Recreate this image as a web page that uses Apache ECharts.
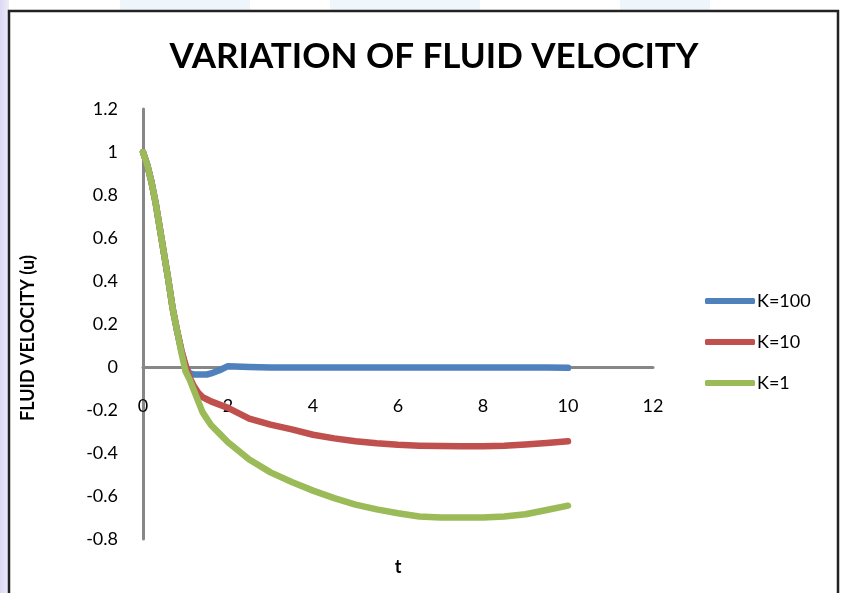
<!DOCTYPE html>
<html>
<head>
<meta charset="utf-8">
<script src="https://cdn.jsdelivr.net/npm/echarts@6/dist/echarts.min.js"></script>
<style>
  html, body { margin: 0; padding: 0; background: #fff; }
  #chart { width: 844px; height: 593px; }
</style>
</head>
<body>
<div id="chart"></div>
<script>
// t values shared by all three curves
const tValues = [0, 0.1, 0.2, 0.3, 0.4, 0.5, 0.6, 0.7, 0.8, 0.9, 1.0, 1.1, 1.2, 1.3, 1.4, 1.5, 1.6, 1.8, 2.0,
  2.5, 3, 3.5, 4, 4.5, 5, 5.5, 6, 6.5, 7, 7.5, 8, 8.5, 9, 9.5, 10];

const uK100 = [1, 0.94, 0.86, 0.76, 0.64, 0.52, 0.40, 0.27, 0.17, 0.08, 0.0, -0.03, -0.035, -0.035, -0.035, -0.035, -0.03, -0.015, 0.004,
  0.0, -0.002, -0.002, -0.002, -0.002, -0.002, -0.002, -0.002, -0.002, -0.002, -0.002, -0.002, -0.002, -0.002, -0.002, -0.004];
const uK10 = [1, 0.94, 0.86, 0.76, 0.64, 0.52, 0.40, 0.27, 0.17, 0.08, 0.01, -0.05, -0.09, -0.12, -0.14, -0.15, -0.16, -0.175, -0.19,
  -0.24, -0.268, -0.29, -0.315, -0.332, -0.345, -0.355, -0.362, -0.366, -0.368, -0.369, -0.369, -0.366, -0.36, -0.353, -0.345];
const uK1 = [1, 0.94, 0.86, 0.76, 0.64, 0.52, 0.40, 0.27, 0.17, 0.07, -0.02, -0.06, -0.11, -0.16, -0.21, -0.24, -0.27, -0.31, -0.35,
  -0.43, -0.49, -0.535, -0.575, -0.61, -0.64, -0.662, -0.68, -0.695, -0.70, -0.70, -0.70, -0.695, -0.685, -0.665, -0.645];

const seriesNames = ['K=100', 'K=10', 'K=1'];
const seriesColors = ['#4F81BD', '#C0504D', '#9BBB59'];

function pairs(u) {
  return tValues.map(function (t, i) { return [t, u[i]]; });
}

const myChart = echarts.init(document.getElementById('chart'));
const font = 'Lato, "Open Sans", sans-serif';

// grid is 430px tall for 2 units of u; x axis sits on u = 0 (0.8 units above the bottom)
const xAxisOffset = -430 * 0.8 / 2;

const option = {
  backgroundColor: '#fff',
  animation: false,
  title: {
    text: 'VARIATION OF FLUID VELOCITY',
    left: 429,
    textAlign: 'center',
    top: 34,
    textStyle: { fontFamily: font, fontSize: 35, fontWeight: 'bold', color: '#000' }
  },
  legend: {
    orient: 'vertical',
    left: 700,
    top: 287,
    data: seriesNames,
    icon: 'roundRect',
    itemWidth: 50,
    itemHeight: 6,
    itemGap: 23,
    textStyle: { fontFamily: font, fontSize: 18, color: '#000', padding: [0, 0, 0, -3] }
  },
  grid: { left: 143, right: 191, top: 109, bottom: 54, outerBoundsMode: 'none' },
  xAxis: {
    type: 'value',
    min: 0, max: 12, interval: 2,
    offset: xAxisOffset,
    name: 't',
    nameLocation: 'middle',
    nameGap: 191,
    nameTextStyle: { fontFamily: font, fontSize: 18, fontWeight: 'bold', color: '#000' },
    axisLine: { onZero: false, lineStyle: { color: '#878787', width: 3 } },
    axisTick: { show: false },
    splitLine: { show: false },
    axisLabel: { margin: 30, fontFamily: font, fontSize: 18, color: '#000' }
  },
  yAxis: {
    type: 'value',
    min: -0.8, max: 1.2, interval: 0.2,
    name: 'FLUID VELOCITY (u)',
    nameLocation: 'middle',
    nameGap: 106,
    nameTextStyle: { fontFamily: font, fontSize: 18, fontWeight: 'bold', color: '#000', padding: [0, 28, 0, 0] },
    axisLine: { show: true, lineStyle: { color: '#878787', width: 3 } },
    axisTick: { show: false },
    splitLine: { show: false },
    axisLabel: { margin: 25, fontFamily: font, fontSize: 18, color: '#000' }
  },
  graphic: [
    { type: 'rect', z: -10, shape: { x: 0, y: 0, width: 9, height: 593 },
      style: { fill: new echarts.graphic.LinearGradient(0, 0, 1, 0, [
        { offset: 0, color: '#dcd8f4' }, { offset: 1, color: '#eeecfa' }]) } },
    { type: 'rect', z: -10, shape: { x: 120, y: 0, width: 130, height: 10 }, style: { fill: '#eef6fc' } },
    { type: 'rect', z: -10, shape: { x: 330, y: 0, width: 150, height: 10 }, style: { fill: '#eff7fd' } },
    { type: 'rect', z: -10, shape: { x: 620, y: 0, width: 90, height: 10 }, style: { fill: '#eef6fc' } },
    { type: 'rect', z: 10, shape: { x: 9, y: 11, width: 829, height: 620 },
      style: { fill: 'none', stroke: '#222', lineWidth: 2.5 } }
  ],
  series: seriesNames.map(function (name, i) {
    return {
      name: name,
      type: 'line',
      data: pairs([uK100, uK10, uK1][i]),
      showSymbol: false,
      symbol: 'none',
      color: seriesColors[i],
      lineStyle: { width: 6.5, color: seriesColors[i], cap: 'round', join: 'round' },
      z: 2 + i
    };
  })
};

myChart.setOption(option);
</script>
</body>
</html>
